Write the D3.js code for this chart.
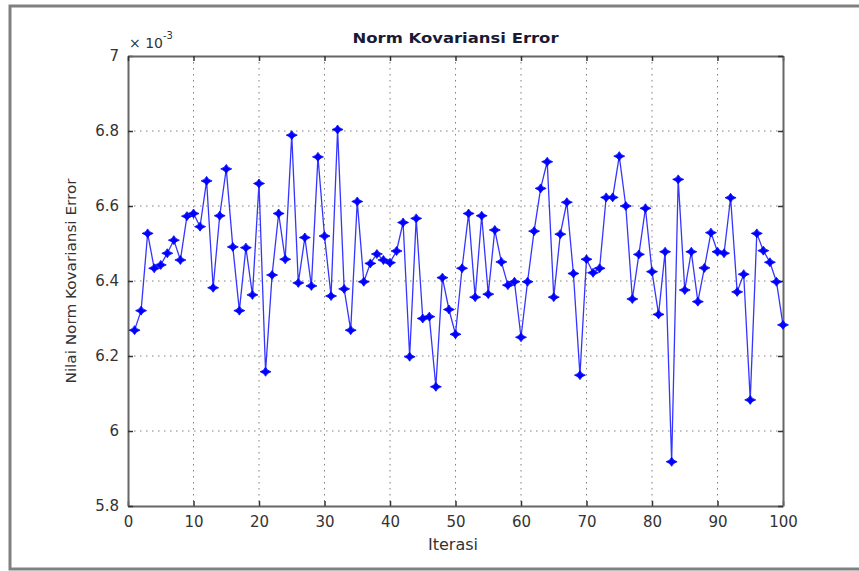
<!DOCTYPE html>
<html>
<head>
<meta charset="utf-8">
<script src="https://cdn.jsdelivr.net/npm/d3@7"></script>
<style>
  body { margin: 0; background: #fff; }
  text { font-family: "DejaVu Sans", sans-serif; fill: #333; }
</style>
</head>
<body>
<div id="chart"></div>
<script>
// norm kovariansi error per iterasi, in units of 1e-3
var errNorm = [
  6.269, 6.321, 6.527, 6.434, 6.443, 6.474, 6.509, 6.456, 6.573, 6.580,
  6.545, 6.667, 6.382, 6.574, 6.699, 6.491, 6.321, 6.489, 6.363, 6.660,
  6.158, 6.416, 6.580, 6.458, 6.789, 6.395, 6.516, 6.387, 6.731, 6.520,
  6.360, 6.804, 6.379, 6.269, 6.612, 6.398, 6.447, 6.472, 6.456, 6.449,
  6.480, 6.556, 6.198, 6.567, 6.300, 6.305, 6.118, 6.409, 6.324, 6.258,
  6.434, 6.580, 6.357, 6.574, 6.365, 6.536, 6.451, 6.389, 6.398, 6.250,
  6.398, 6.533, 6.647, 6.718, 6.357, 6.525, 6.610, 6.420, 6.149, 6.458,
  6.422, 6.434, 6.623, 6.623, 6.733, 6.600, 6.352, 6.471, 6.594, 6.425,
  6.311, 6.478, 5.918, 6.671, 6.376, 6.478, 6.345, 6.435, 6.529, 6.478,
  6.474, 6.622, 6.371, 6.418, 6.083, 6.527, 6.481, 6.450, 6.398, 6.283
];
var iterasi = d3.range(1, errNorm.length + 1);

var xTicks = [0, 10, 20, 30, 40, 50, 60, 70, 80, 90, 100];
var yTicks = [5.8, 6, 6.2, 6.4, 6.6, 6.8, 7];

var data = iterasi.map(function (it, i) { return { x: it, y: errNorm[i] }; });

var W = 859, H = 571;
var svg = d3.select("#chart").append("svg").attr("width", W).attr("height", H);

// outer figure frame
svg.append("rect")
  .attr("x", 10).attr("y", 6).attr("width", 870).attr("height", 563)
  .attr("fill", "none").attr("stroke", "#808080").attr("stroke-width", 3);

var x = d3.scaleLinear().domain([0, 100]).range([128, 783]);
var y = d3.scaleLinear().domain([5.8, 7]).range([506, 56]);

// dotted grid
var grid = svg.append("g").attr("stroke", "#808080").attr("stroke-width", 1)
  .attr("stroke-dasharray", "1.5,4.5");
grid.selectAll(".gx").data(xTicks.slice(1, -1)).enter().append("line")
  .attr("x1", function (d) { return x(d); }).attr("x2", function (d) { return x(d); })
  .attr("y1", y(7)).attr("y2", y(5.8));
grid.selectAll(".gy").data(yTicks.slice(1, -1)).enter().append("line")
  .attr("y1", function (d) { return y(d); }).attr("y2", function (d) { return y(d); })
  .attr("x1", x(0)).attr("x2", x(100));

// axes, ticks pointing inward like matlab
var fmt = function (d) { return d3.format("~g")(d); };
var axBottom = svg.append("g").attr("transform", "translate(0," + y(5.8) + ")")
  .call(d3.axisBottom(x).tickValues(xTicks).tickFormat(fmt).tickSizeInner(-5).tickSizeOuter(0).tickPadding(10));
var axLeft = svg.append("g").attr("transform", "translate(" + x(0) + ",0)")
  .call(d3.axisLeft(y).tickValues(yTicks).tickFormat(fmt).tickSizeInner(-5).tickSizeOuter(0).tickPadding(9));
var axTop = svg.append("g").attr("transform", "translate(0," + y(7) + ")")
  .call(d3.axisTop(x).tickValues(xTicks).tickFormat("").tickSizeInner(-5).tickSizeOuter(0));
var axRight = svg.append("g").attr("transform", "translate(" + x(100) + ",0)")
  .call(d3.axisRight(y).tickValues(yTicks).tickFormat("").tickSizeInner(-5).tickSizeOuter(0));

[axBottom, axLeft, axTop, axRight].forEach(function (g) {
  g.select(".domain").attr("stroke", "#666").attr("stroke-width", 2);
  g.selectAll(".tick line").attr("stroke", "#333").attr("stroke-width", 1.5);
  g.selectAll("text").style("font-size", "15px").attr("fill", "#333");
});

// exponent label
var expo = svg.append("text").attr("x", 129).attr("y", 48).style("font-size", "14px");
expo.append("tspan").text("\u00d7 10");
expo.append("tspan").attr("dy", -9).style("font-size", "10px").text("-3");

// series line + markers
var line = d3.line().x(function (d) { return x(d.x); }).y(function (d) { return y(d.y); });
svg.append("path").datum(data)
  .attr("d", line).attr("fill", "none")
  .attr("stroke", "#3535ff").attr("stroke-width", 1.3);

svg.selectAll(".mk").data(data).enter().append("path")
  .attr("transform", function (d) { return "translate(" + x(d.x) + "," + y(d.y) + ")"; })
  .attr("d", "M-5.5,0 Q-1.5,-1 0,-4.5 Q1.5,-1 5.5,0 Q1.5,1 0,4.5 Q-1.5,1 -5.5,0Z")
  .attr("fill", "#0000ff").attr("stroke", "#0000ff").attr("stroke-width", 0.8);

// titles
svg.append("text")
  .attr("x", (x(0) + x(100)) / 2).attr("y", 43)
  .attr("text-anchor", "middle")
  .attr("textLength", 206).attr("lengthAdjust", "spacingAndGlyphs")
  .style("font-size", "14px").style("font-weight", "bold").style("fill", "#1a1a33")
  .text("Norm Kovariansi Error");

svg.append("text")
  .attr("x", 453).attr("y", 550)
  .attr("text-anchor", "middle")
  .style("font-size", "16px")
  .text("Iterasi");

svg.append("text")
  .attr("transform", "translate(76," + (y(6.4)) + ") rotate(-90)")
  .attr("text-anchor", "middle")
  .attr("textLength", 205).attr("lengthAdjust", "spacingAndGlyphs")
  .style("font-size", "14px")
  .text("Nilai Norm Kovariansi Error");
</script>
</body>
</html>
